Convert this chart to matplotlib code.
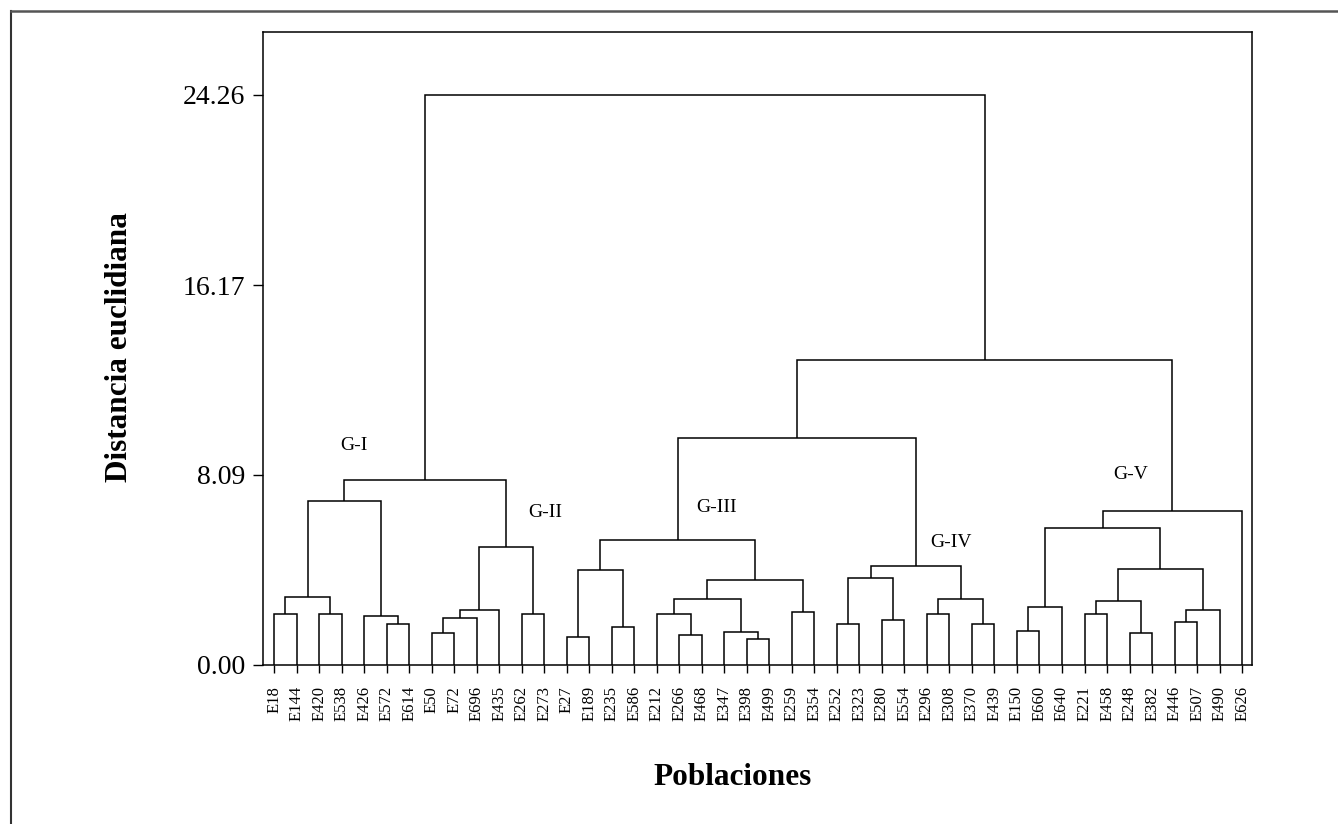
import matplotlib
matplotlib.use('Agg')
import matplotlib.pyplot as plt
from matplotlib.lines import Line2D

# ---------------- data ----------------
leaves = ['E18', 'E144', 'E420', 'E538', 'E426', 'E572', 'E614',
          'E50', 'E72', 'E696', 'E435', 'E262', 'E273',
          'E27', 'E189', 'E235', 'E586',
          'E212', 'E266', 'E468', 'E347', 'E398', 'E499', 'E259', 'E354',
          'E252', 'E323', 'E280', 'E554', 'E296', 'E308', 'E370', 'E439',
          'E150', 'E660', 'E640', 'E221', 'E458', 'E248', 'E382',
          'E446', 'E507', 'E490', 'E626']

merge_names = ['a', 'b', 'c', 'd', 'e', 'GI',
               'g', 'h', 'i', 'j', 'GII', 'I_II',
               'm', 'n', 'o', 'p', 'q', 'r', 's', 't', 'u', 'v', 'GIII',
               'x', 'y', 'z', 'aa', 'ab', 'ac', 'GIV', 'III_IV',
               'af', 'ag', 'ah', 'ai', 'aj', 'ak', 'al', 'am', 'an', 'GV',
               'III_V', 'root']
merge_left = ['E18', 'E420', 'a', 'E572', 'E426', 'c',
              'E50', 'g', 'h', 'E262', 'i', 'GI',
              'E27', 'E235', 'm', 'E266', 'E212', 'E398', 'E347', 'q', 'E259', 't', 'o',
              'E252', 'E280', 'x', 'E296', 'E370', 'aa', 'z', 'GIII',
              'E150', 'af', 'E221', 'E248', 'ah', 'E446', 'ak', 'aj', 'ag', 'an',
              'III_IV', 'I_II']
merge_right = ['E144', 'E538', 'b', 'E614', 'd', 'e',
               'E72', 'E696', 'E435', 'E273', 'j', 'GII',
               'E189', 'E586', 'n', 'E468', 'p', 'E499', 'r', 's', 'E354', 'u', 'v',
               'E323', 'E554', 'y', 'E308', 'E439', 'ab', 'ac', 'GIV',
               'E660', 'E640', 'E458', 'E382', 'ai', 'E507', 'E490', 'al', 'am', 'E626',
               'GV', 'III_V']
merge_height = [2.18, 2.18, 2.91, 1.73, 2.10, 6.99,
                1.38, 2.00, 2.35, 2.18, 5.03, 7.89,
                1.19, 1.63, 4.04, 1.28, 2.18, 1.11, 1.39, 2.79, 2.26, 3.60, 5.32,
                1.73, 1.90, 3.69, 2.18, 1.73, 2.79, 4.23, 9.67,
                1.46, 2.45, 2.18, 1.38, 2.71, 1.82, 2.35, 4.07, 5.83, 6.55,
                12.98, 24.26]

yticks = [0.00, 8.09, 16.17, 24.26]
group_labels = ['G-I', 'G-II', 'G-III', 'G-IV', 'G-V']
group_label_pos = [(3.55, 9.36), (12.04, 6.51), (19.64, 6.72), (30.08, 5.23), (38.03, 8.09)]

# ---------------- figure ----------------
plt.rcParams['font.family'] = ['Liberation Serif', 'DejaVu Serif']

fig = plt.figure(figsize=(13.38, 8.24), dpi=100)
ax = fig.add_axes([263 / 1338, 1 - 665 / 824, (1252 - 263) / 1338, (665 - 32) / 824])

pos = {name: (float(i), 0.0) for i, name in enumerate(leaves)}
lw = 1.1
for name, l, r, h in zip(merge_names, merge_left, merge_right, merge_height):
    xl, yl = pos[l]
    xr, yr = pos[r]
    ax.plot([xl, xl, xr, xr], [yl, h, h, yr], color='black', lw=lw,
            solid_capstyle='butt', solid_joinstyle='miter')
    pos[name] = ((xl + xr) / 2.0, h)

for txt, (gx, gy) in zip(group_labels, group_label_pos):
    ax.text(gx, gy, txt, fontsize=14, ha='center', va='center')

ax.set_xlim(-0.49, 43.44)
ax.set_ylim(0, 26.94)
ax.set_xticks(range(len(leaves)))
ax.set_xticklabels(leaves, rotation=90, fontsize=12)
ax.set_yticks(yticks)
ax.set_yticklabels([f'{v:.2f}' for v in yticks], fontsize=20)
ax.tick_params(axis='x', direction='out', length=6, width=1, pad=9)
ax.tick_params(axis='y', direction='out', length=7, width=1, pad=6)
for sp in ax.spines.values():
    sp.set_linewidth(1.1)
    sp.set_color('black')

ax.set_ylabel('Distancia euclidiana', fontsize=22.5, fontweight='bold', va='center')
ax.yaxis.set_label_coords(-0.1446, 0.502)
ax.set_xlabel('Poblaciones', fontsize=22.5, fontweight='bold', va='center')
ax.xaxis.set_label_coords(0.475, -0.1785)

# outer frame (top and left edges visible)
fig.add_artist(Line2D([11 / 1338, 11 / 1338], [0, 1 - 11 / 824], transform=fig.transFigure,
                      color='#333333', lw=1.5))
fig.add_artist(Line2D([11 / 1338, 1], [1 - 11 / 824, 1 - 11 / 824], transform=fig.transFigure,
                      color='#555555', lw=1.8))

fig.savefig('out.png', dpi=100)
